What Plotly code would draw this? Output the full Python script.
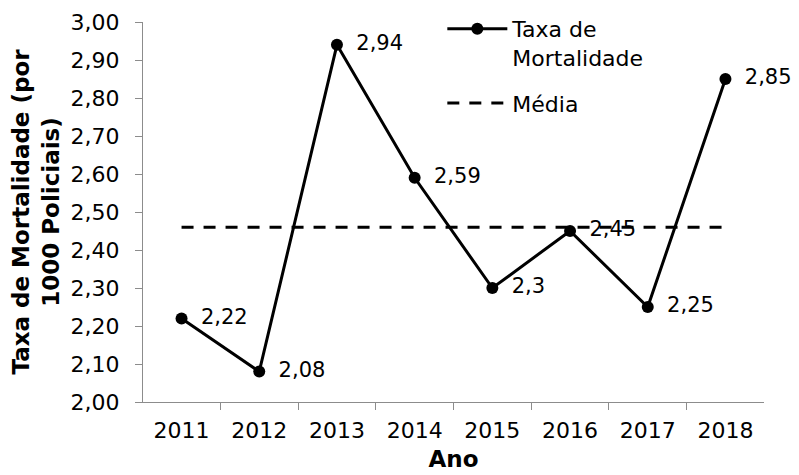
import plotly.graph_objects as go

anos = ["2011", "2012", "2013", "2014", "2015", "2016", "2017", "2018"]
taxa = [2.22, 2.08, 2.94, 2.59, 2.30, 2.45, 2.25, 2.85]
media_val = round(sum(taxa) / len(taxa), 2)
media = [media_val] * len(anos)
y_ticks = [2.0, 2.1, 2.2, 2.3, 2.4, 2.5, 2.6, 2.7, 2.8, 2.9, 3.0]

labels = [("%g" % v).replace(".", ",") for v in taxa]

FONT = "DejaVu Sans, Verdana, sans-serif"

fig = go.Figure()
fig.add_trace(go.Scatter(
    x=anos, y=taxa, mode="lines+markers+text",
    name="Taxa de<br>Mortalidade", legendgroup="a",
    line=dict(color="black", width=3),
    marker=dict(color="black", size=12),
    text=[" \u2009" + t for t in labels], textposition="middle right",
    textfont=dict(family=FONT, size=21, color="black"),
    cliponaxis=False,
))
fig.add_trace(go.Scatter(
    x=anos, y=media, mode="lines", name="Média", legendgroup="b",
    line=dict(color="black", width=3, dash="12px,10px"),
))

fig.update_layout(
    width=799, height=475,
    margin=dict(l=135, r=43, t=14, b=81, autoexpand=False),
    paper_bgcolor="white", plot_bgcolor="white",
    separators=",.",
    font=dict(family=FONT, size=22, color="black"),
    showlegend=True,
    legend=dict(x=0.482, y=1.0, xanchor="left", yanchor="top", yref="container",
                bgcolor="rgba(0,0,0,0)", font=dict(size=22),
                tracegroupgap=14, valign="top", itemwidth=60,
                traceorder="grouped"),
    xaxis=dict(
        title=dict(text="<b>Ano</b>", font=dict(size=23), standoff=8),
        type="category", tickson="boundaries",
        showline=True, linecolor="#8c8c8c", linewidth=1,
        ticks="outside", ticklen=7, tickcolor="#8c8c8c",
        showgrid=False, zeroline=False,
        tickfont=dict(size=22), ticklabelstandoff=9,
    ),
    yaxis=dict(
        title=dict(text="<b>Taxa de Mortalidade (por<br>1000 Policiais)</b>", font=dict(size=23), standoff=8),
        range=[2.0, 3.0], tickvals=y_ticks, tickformat=".2f",
        showline=True, linecolor="#8c8c8c", linewidth=1,
        ticks="outside", ticklen=7, tickcolor="#8c8c8c",
        showgrid=False, zeroline=False,
        tickfont=dict(size=22), ticklabelstandoff=11,
    ),
)

fig.write_html("out.html")
